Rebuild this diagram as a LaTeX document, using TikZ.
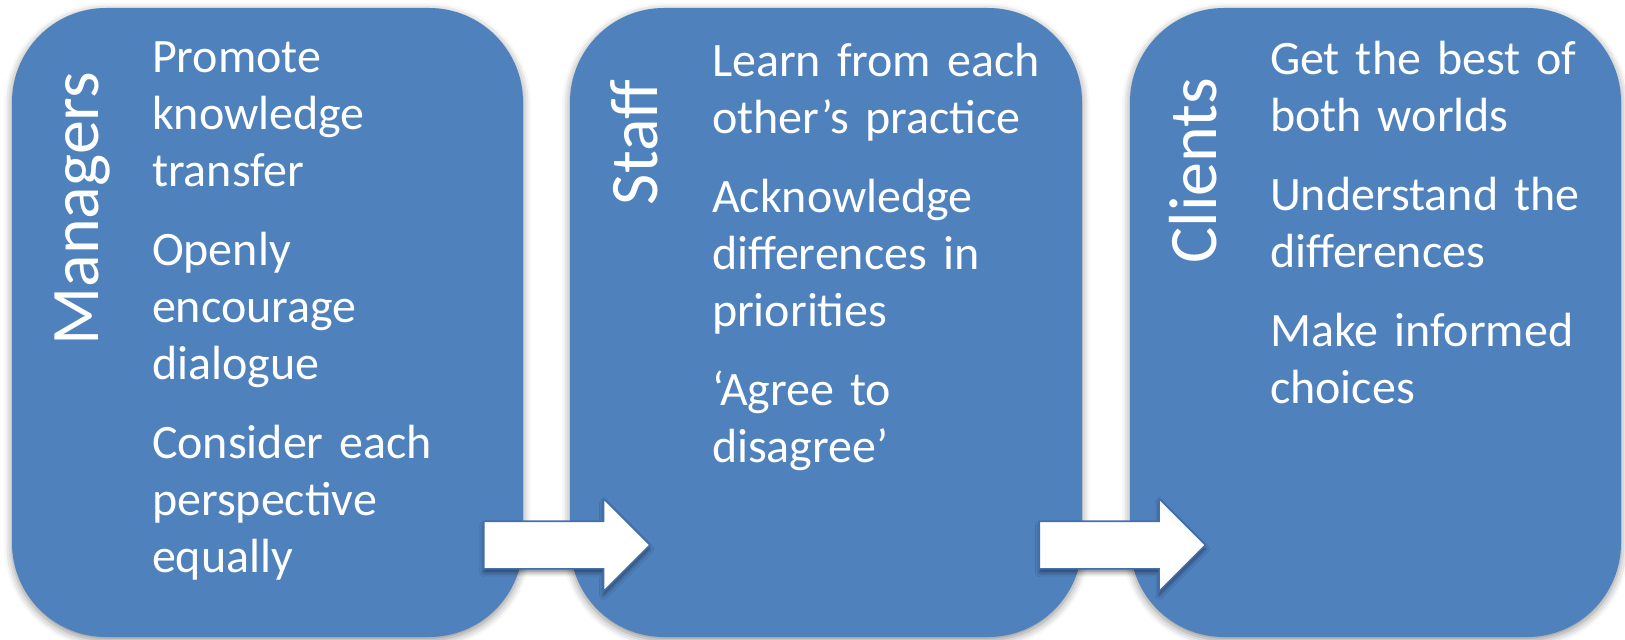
\documentclass[tikz,border=0pt]{standalone}
\usepackage{fontspec}
\setmainfont{Carlito}
\usepackage{tikz}
\usetikzlibrary{shapes.arrows,shadows.blur}
\definecolor{cardblue}{RGB}{79,129,189}
\definecolor{arrowedge}{RGB}{66,112,172}
\def\cardnode{\node[card]}
\def\itemfont{\fontsize{24}{28.5}\selectfont}

\begin{document}
\begin{tikzpicture}[x=0.5pt,y=-0.5pt,
  card/.style={rectangle,rounded corners=47pt,fill=cardblue,inner sep=0pt,minimum height=314.5pt,
    blur shadow={shadow xshift=0pt,shadow yshift=-1.5pt,shadow blur radius=4pt,shadow opacity=45}},
  who/.style={rotate=90,anchor=base east,inner sep=0pt,text=white,font=\fontsize{34}{40}\selectfont},
  items/.style={anchor=base west,inner sep=0pt,text=white,text width=200pt,font=\itemfont},
  bigarrow/.style={single arrow,single arrow head extend=11.25pt,inner xsep=0pt,inner ysep=11.5pt,
    minimum height=83pt,fill=white,draw=arrowedge,line width=0.8pt,
    blur shadow={shadow xshift=0pt,shadow yshift=-2pt,shadow blur radius=2pt,shadow opacity=45}}]
\useasboundingbox (0,0) rectangle (1625,640);
% the three groups
\cardnode[minimum width=255.5pt] (mgr) at (267.5,322.5) {};
\cardnode[minimum width=256pt] (stf) at (826,322.5) {};
\cardnode[minimum width=245.5pt] (cli) at (1375.5,322.5) {};
% vertical titles
\node[who] (mgrlbl) at ([xshift=43.5pt,yshift=-32pt]mgr.north west) {Managers};
\node[who] (stflbl) at ([xshift=44pt,yshift=-36pt]stf.north west) {Staff};
\node[who] (clilbl) at ([xshift=43.5pt,yshift=-35pt]cli.north west) {Clients};
% what each group does
\node[items] (mgrtxt) at ([xshift=70pt,yshift=-32.5pt]mgr.north west)
  {Promote\\knowledge\\transfer\\[11pt]Openly\\encourage\\dialogue\\[11pt]Consider each\\perspective\\equally};
\node[items] (stftxt) at ([xshift=71pt,yshift=-34.5pt]stf.north west)
  {Learn from each\\other’s practice\\[11pt]Acknowledge\\differences in\\priorities\\[11pt]‘Agree to\\disagree’};
\node[items] (clitxt) at ([xshift=70pt,yshift=-33.5pt]cli.north west)
  {Get the best of\\both worlds\\[11pt]Understand the\\differences\\[11pt]Make informed\\choices};
% arrows between the groups
\node[bigarrow] (mgr2stf) at (555,545) {};
\node[bigarrow] (stf2cli) at (1110.5,545) {};
\end{tikzpicture}
\end{document}
